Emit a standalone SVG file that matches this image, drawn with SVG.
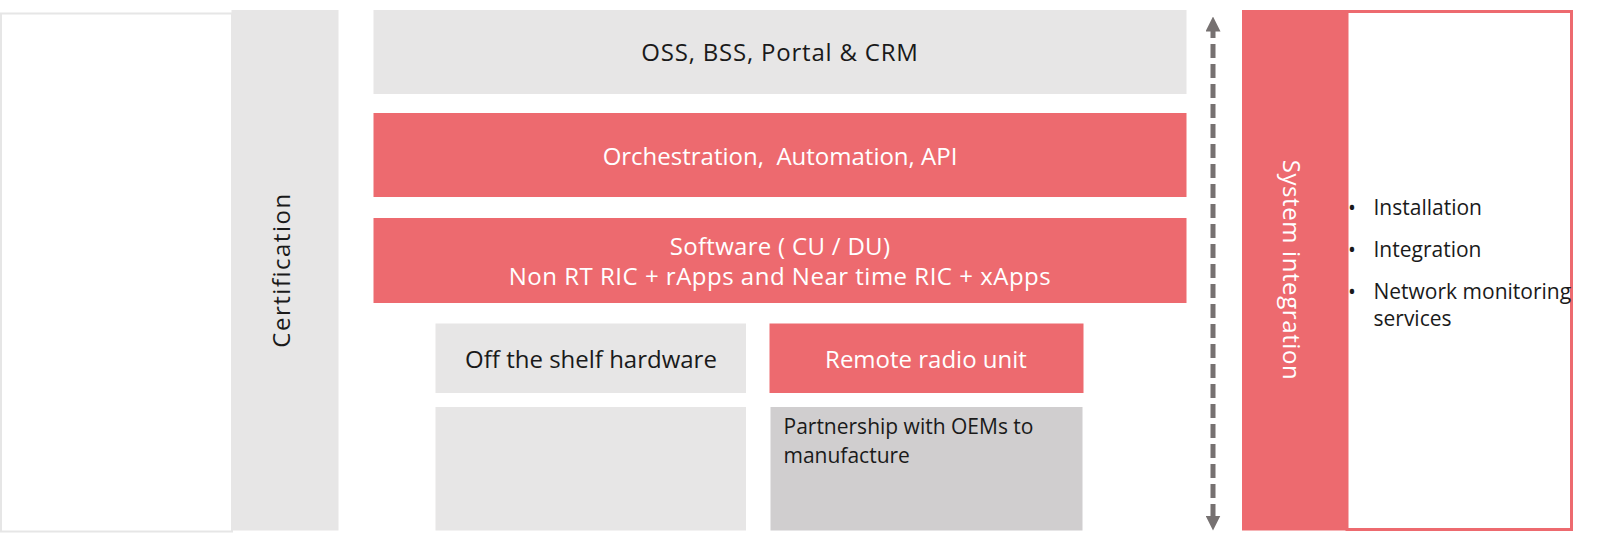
<svg xmlns="http://www.w3.org/2000/svg" width="1600" height="547" viewBox="0 0 1600 547">
<style>
text{font-family:"Open Sans","Noto Sans",sans-serif;font-size:24px;}
.dark{fill:#1a1a1a;}
.light{fill:#ffffff;}
.gray{fill:#e7e6e6;}
.red{fill:#ed6a6f;}
.mid{fill:#d0cecf;}
.c{text-anchor:middle;dominant-baseline:central;}
.s{font-size:21px;}
</style>
<defs>
<marker id="ah" viewBox="0 0 10 10" refX="5" refY="5" markerWidth="3" markerHeight="3" orient="auto-start-reverse" markerUnits="strokeWidth">
<path d="M0,0 L10,5 L0,10 z" fill="#767171"/>
</marker>
</defs>
<rect width="1600" height="547" fill="#ffffff"/>
<g id="left-panel">
<rect x="1" y="13.5" width="231" height="518" fill="#ffffff" stroke="#e6e6e6" stroke-width="2"/>
</g>
<g id="certification">
<rect class="gray" x="231.5" y="10" width="107" height="520.5"/>
<text class="dark c" transform="translate(280 270) rotate(-90)" letter-spacing="1.5">Certification</text>
</g>
<g id="oss">
<rect class="gray" x="373.5" y="10" width="813" height="84"/>
<text class="dark c" x="780" y="51" letter-spacing="0.8">OSS, BSS, Portal &amp; CRM</text>
</g>
<g id="orchestration">
<rect class="red" x="373.5" y="113" width="813" height="84"/>
<text class="light c" x="780" y="155" xml:space="preserve">Orchestration,  Automation, API</text>
</g>
<g id="software">
<rect class="red" x="373.5" y="218" width="813" height="85"/>
<text class="light c" x="780" y="245" letter-spacing="0.3">Software ( CU / DU)</text>
<text class="light c" x="780" y="275.5" letter-spacing="0.5">Non RT RIC + rApps and Near time RIC + xApps</text>
</g>
<g id="hardware">
<rect class="gray" x="435.5" y="323.5" width="310.5" height="69.5"/>
<text class="dark c" x="591" y="358">Off the shelf hardware</text>
</g>
<g id="hardware-detail">
<rect class="gray" x="435.5" y="407" width="310.5" height="123.5"/>
</g>
<g id="rru">
<rect class="red" x="769.5" y="323.5" width="314" height="69.5"/>
<text class="light c" x="926" y="358">Remote radio unit</text>
</g>
<g id="partnership">
<rect class="mid" x="770.5" y="407" width="312" height="123.5"/>
<text class="dark s" x="783.5" y="434">Partnership with OEMs to</text>
<text class="dark s" x="783.5" y="462.5">manufacture</text>
</g>
<g id="connectors">
<line x1="1213" y1="24" x2="1213" y2="523" stroke="#767171" stroke-width="5" stroke-dasharray="14 6" marker-start="url(#ah)" marker-end="url(#ah)"/>
</g>
<g id="system-integration">
<rect class="red" x="1242" y="10" width="105" height="520.5"/>
<text class="light c" transform="translate(1292 270) rotate(90)" letter-spacing="0.6">System integration</text>
</g>
<g id="services">
<rect x="1347" y="11.5" width="224.5" height="518" fill="#ffffff" stroke="#ed6a6f" stroke-width="3"/>
<text class="dark s" x="1348" y="215">•</text>
<text class="dark s" x="1373.5" y="215">Installation</text>
<text class="dark s" x="1348" y="257">•</text>
<text class="dark s" x="1373.5" y="257">Integration</text>
<text class="dark s" x="1348" y="299">•</text>
<text class="dark s" x="1373.5" y="299">Network monitoring</text>
<text class="dark s" x="1373.5" y="326">services</text>
</g>
</svg>
